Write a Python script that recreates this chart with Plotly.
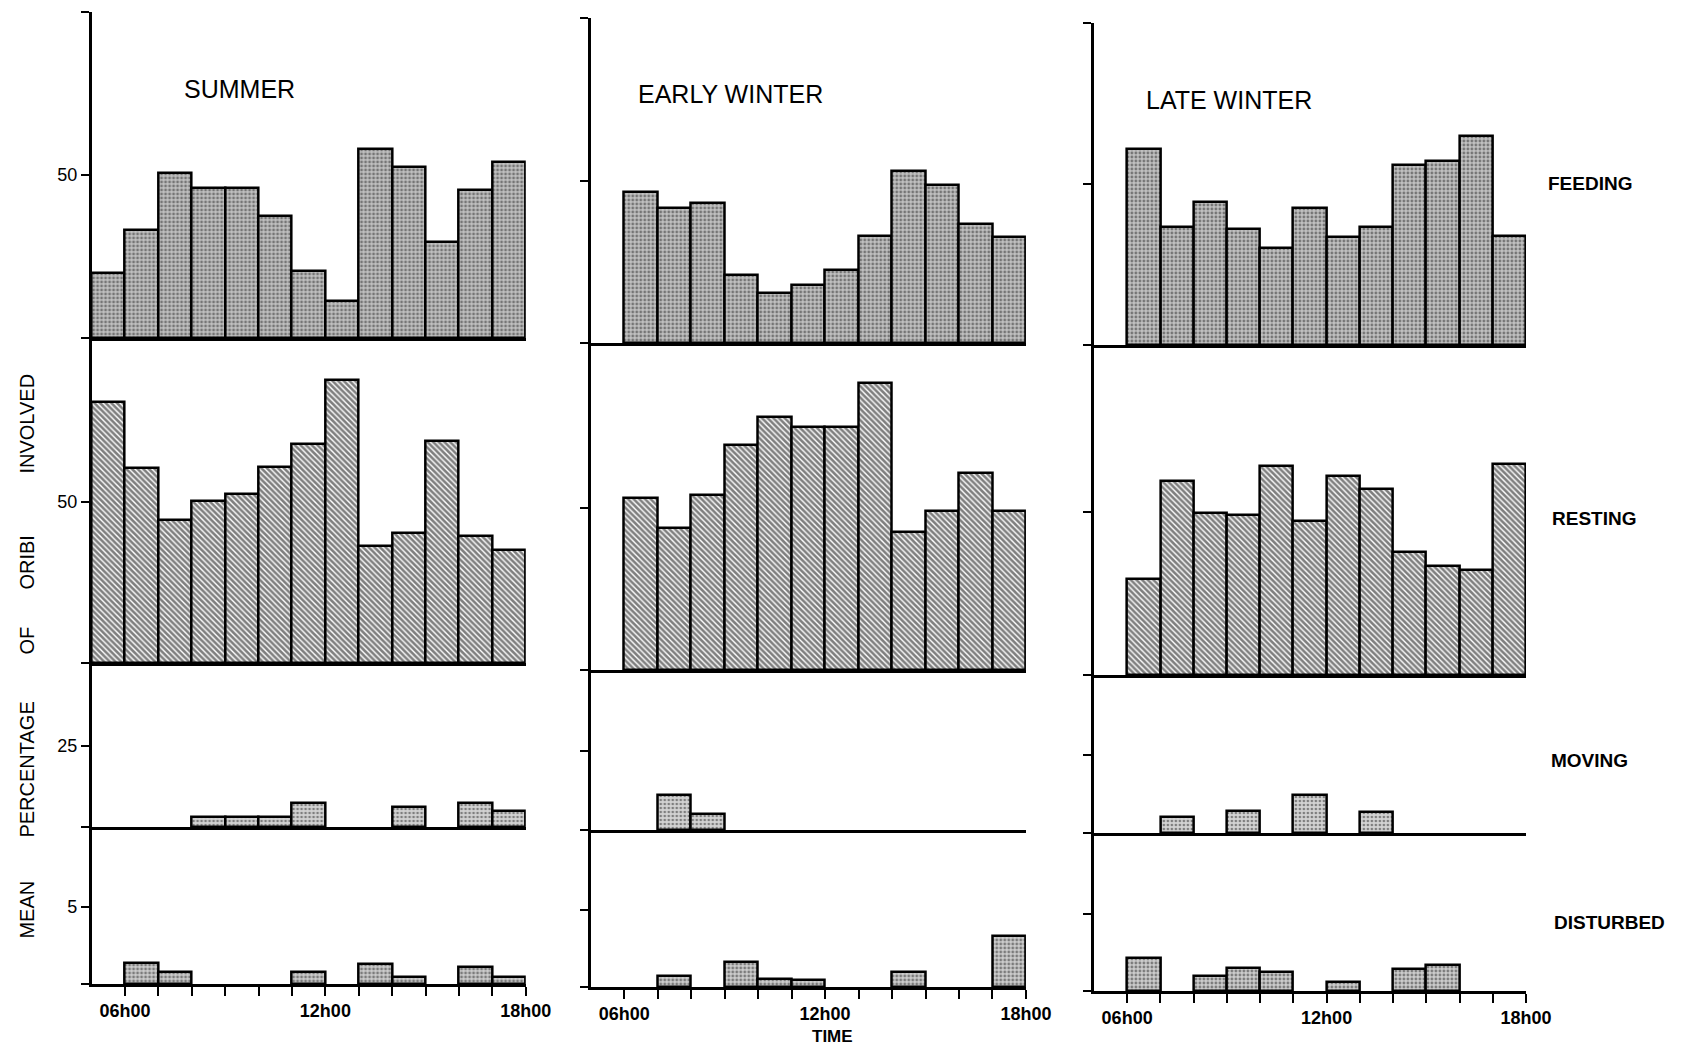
import plotly.graph_objects as go

# ---------------- data ----------------
summer_hours = [5, 6, 7, 8, 9, 10, 11, 12, 13, 14, 15, 16, 17]   # bar start hour
winter_hours = [6, 7, 8, 9, 10, 11, 12, 13, 14, 15, 16, 17]

summer_feeding = [20, 33, 50.5, 46, 46, 37.5, 20.5, 11.5, 58, 52.5, 29.5, 45.5, 54]
summer_resting = [81, 60.5, 44.5, 50.5, 52.5, 61, 68, 88, 36.5, 40.5, 69, 39.5, 35]
summer_moving = [None, None, None, 3.1, 3.1, 3.1, 7.4, None, None, 6.2, None, 7.4, 4.9]
summer_disturbed = [None, 1.35, 0.75, None, None, None, 0.75, None, 1.3, 0.45, None, 1.1, 0.45]

early_feeding = [46.5, 41.5, 43, 21, 15.5, 18, 22.5, 33, 53, 48.5, 36.5, 32.5]
early_resting = [53, 44, 54, 69.5, 78, 75, 75, 88.5, 42.5, 49, 61, 49]
early_moving = [None, 11, 5, None, None, None, None, None, None, None, None, None]
early_disturbed = [None, 0.7, None, 1.6, 0.5, 0.45, None, None, 1.0, None, None, 3.3]

late_feeding = [61, 36.5, 44.5, 36, 30, 42.5, 33.5, 36.5, 56, 57, 65, 34]
late_resting = [29.5, 59.5, 49.5, 49, 64, 47, 61, 57, 37.5, 33.5, 32, 64.5]
late_moving = [None, 5.1, None, 7.1, None, 12.2, None, 6.7, None, None, None, None]
late_disturbed = [2.1, None, 1.0, 1.5, 1.25, None, 0.6, None, 1.45, 1.65, None, None]

seasons = ["SUMMER", "EARLY WINTER", "LATE WINTER"]
activities = ["FEEDING", "RESTING", "MOVING", "DISTURBED"]
hour_ticks = list(range(6, 19))
hour_labels = {6: "06h00", 12: "12h00", 18: "18h00"}
y_ticks = [[0, 50, 100], [0, 50], [0, 25], [0, 5]]
y_labels = [["", "50", ""], ["", "50"], ["", "25"], ["", "5"]]
y_ranges = [[0, 100], [0, 101], [0, 50.6], [0, 10.2]]
axis_words = ["INVOLVED", "ORIBI", "OF", "PERCENTAGE", "MEAN"]

columns = [
    (summer_hours, [summer_feeding, summer_resting, summer_moving, summer_disturbed]),
    (winter_hours, [early_feeding, early_resting, early_moving, early_disturbed]),
    (winter_hours, [late_feeding, late_resting, late_moving, late_disturbed]),
]

# ---------------- layout geometry (pixels) ----------------
W, H = 1687, 1048
col_x = [(93, 534), (600, 1042), (1111, 1550)]
col_rows = [
    [12, 338, 663, 827, 984],
    [18, 343, 670, 830, 987],
    [23, 345, 675, 833, 991],
]

FONT = "Liberation Sans"

styles = [
    dict(shape=".", fgcolor="#2a2a2a", bgcolor="#c0c0c0", size=4, solidity=0.4),
    dict(shape="\\", fgcolor="#000000", bgcolor="#ffffff", size=4, solidity=0.65),
    dict(shape=".", fgcolor="#2a2a2a", bgcolor="#d2d2d2", size=4, solidity=0.35),
    dict(shape=".", fgcolor="#2a2a2a", bgcolor="#cccccc", size=4, solidity=0.4),
]

fig = go.Figure()
layout = {}
k = 0
for c, (hours, series) in enumerate(columns):
    x0, x1 = col_x[c]
    rows = col_rows[c]
    for r in range(4):
        k += 1
        xa = "x" if k == 1 else f"x{k}"
        ya = "y" if k == 1 else f"y{k}"
        fig.add_trace(go.Bar(
            x=[h + 0.5 for h in hours], y=series[r], width=1.0,
            xaxis=xa, yaxis=ya, showlegend=False,
            marker=dict(color=styles[r]["bgcolor"], pattern=styles[r],
                        line=dict(color="black", width=2.5)),
        ))
        top, bot = rows[r], rows[r + 1]
        bottom_row = (r == 3)
        layout["xaxis" if k == 1 else f"xaxis{k}"] = dict(
            domain=[x0 / W, x1 / W], range=[5, 18], anchor=ya,
            showline=True, linecolor="black", linewidth=2.5,
            showgrid=False, zeroline=False,
            tickvals=hour_ticks if bottom_row else [],
            ticktext=[hour_labels.get(h, "") for h in hour_ticks] if bottom_row else [],
            ticks="outside" if bottom_row else "", ticklen=9, tickwidth=2, tickcolor="black",
            tickfont=dict(family=FONT, size=18, color="black", weight="bold"),
            fixedrange=True,
        )
        layout["yaxis" if k == 1 else f"yaxis{k}"] = dict(
            domain=[1 - bot / H, 1 - top / H], range=y_ranges[r], anchor=xa,
            showline=True, linecolor="black", linewidth=2.5,
            showgrid=False, zeroline=False,
            tickvals=y_ticks[r], ticktext=y_labels[r] if c == 0 else [""] * len(y_ticks[r]),
            ticks="outside", ticklen=8, tickwidth=2, tickcolor="black",
            tickfont=dict(family=FONT, size=18, color="black"),
            fixedrange=True,
        )

annotations = []
# season titles
for name, (px, py) in zip(seasons, [(243, 89), (742, 94), (1248, 100)]):
    annotations.append(dict(text=name, x=px / W, y=1 - py / H, xref="paper", yref="paper",
                            showarrow=False, xanchor="center", yanchor="middle",
                            font=dict(family=FONT, size=25, color="black")))
# activity labels on the right
for name, (px, py) in zip(activities, [(1615, 183), (1619, 518), (1614, 760), (1635, 922)]):
    annotations.append(dict(text="<b>" + name + "</b>", x=px / W, y=1 - py / H, xref="paper", yref="paper",
                            showarrow=False, xanchor="center", yanchor="middle",
                            font=dict(family=FONT, size=19, color="black")))
# left axis title words
for word, py in zip(axis_words, [424, 563, 641, 770, 910]):
    annotations.append(dict(text=word, x=27 / W, y=1 - py / H, xref="paper", yref="paper",
                            showarrow=False, xanchor="center", yanchor="middle", textangle=-90,
                            font=dict(family=FONT, size=20, color="black")))
# TIME label
annotations.append(dict(text="<b>TIME</b>", x=846 / W, y=1 - 1036 / H, xref="paper", yref="paper",
                        showarrow=False, xanchor="center", yanchor="middle",
                        font=dict(family=FONT, size=17, color="black")))

fig.update_layout(
    width=W, height=H, margin=dict(l=0, r=0, t=0, b=0),
    paper_bgcolor="white", plot_bgcolor="white",
    bargap=0, annotations=annotations, **layout,
)

fig.write_html("out.html")
